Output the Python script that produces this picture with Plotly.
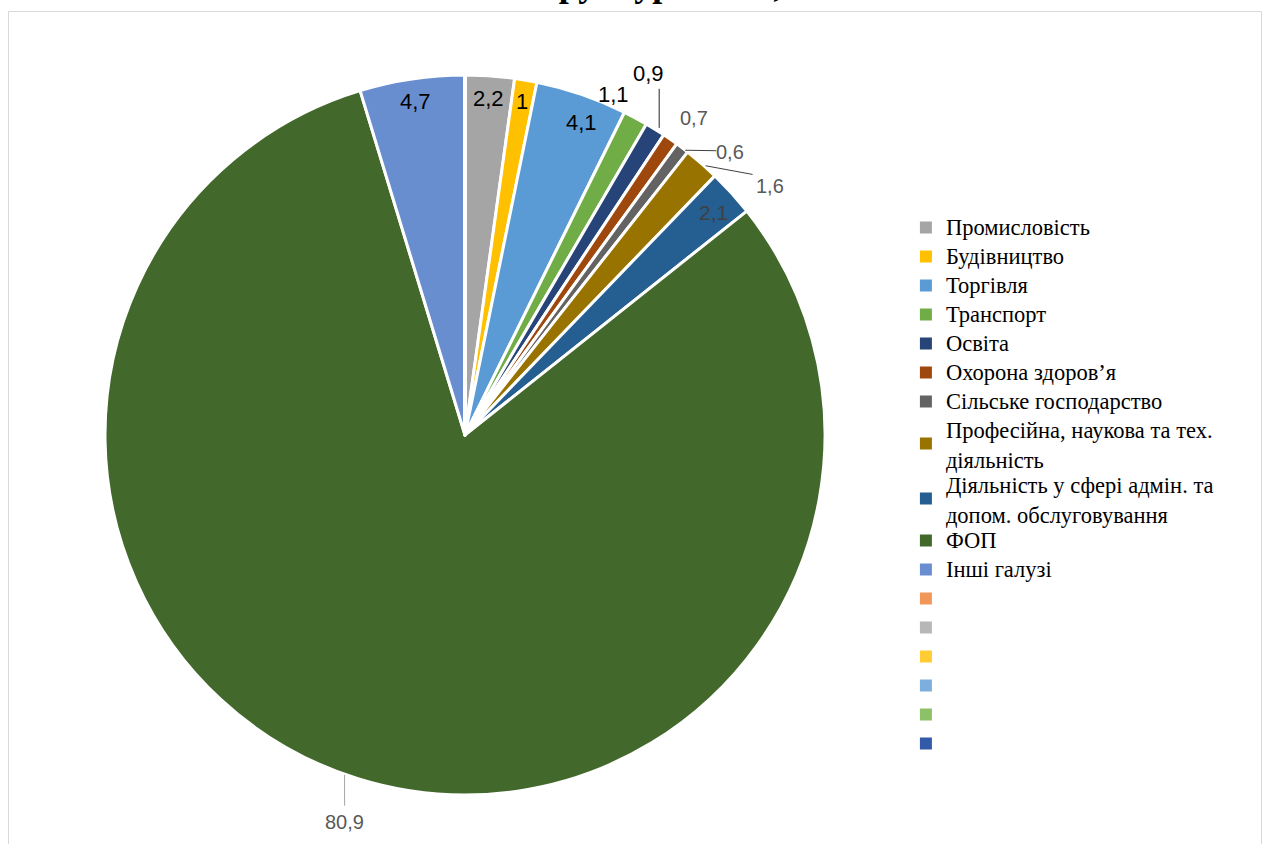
import math
import plotly.graph_objects as go

W, H = 1267, 844

# ---------------- data ----------------
categories = [
    "Промисловість", "Будівництво", "Торгівля", "Транспорт", "Освіта",
    "Охорона здоров’я", "Сільське господарство",
    "Професійна, наукова та тех.<br>діяльність",
    "Діяльність у сфері адмін. та<br>допом. обслуговування",
    "ФОП", "Інші галузі",
]
values = [2.2, 1, 4.1, 1.1, 0.9, 0.7, 0.6, 1.6, 2.1, 80.9, 4.7]
value_text = ["2,2", "1", "4,1", "1,1", "0,9", "0,7", "0,6", "1,6", "2,1", "80,9", "4,7"]
# empty legend entries present in the original
empty_entries = [" ", "  ", "   ", "    ", "     ", "      "]

colors = ["#A5A5A5", "#FFC000", "#5B9BD5", "#70AD47", "#264478", "#9E480E",
          "#636363", "#997300", "#255E91", "#43682B", "#698ED0"]
empty_colors = ["#F1975A", "#B7B7B7", "#FFCD33", "#7CAFDD", "#8CC168", "#335AA6"]

title_text = "Структура ЄСВ, %"

# ---------------- layout / style ----------------
dom_x = [105 / W, 825 / W]
dom_y = [49 / H, 769 / H]
cx = (dom_x[0] + dom_x[1]) / 2 * W
cy = H - (dom_y[0] + dom_y[1]) / 2 * H
R = min((dom_x[1] - dom_x[0]) * W, (dom_y[1] - dom_y[0]) * H) / 2

# label placement: (radius factor, angle nudge deg, color, size)
label_style = [
    (0.936, 0.0, "#000000", 22),
    (0.939, 0.0, "#000000", 22),
    (0.925, 1.5, "#000000", 22),
    (1.031, -4.7, "#000000", 22),
    (1.125, -5.0, "#000000", 22),
    (1.086, 1.0, "#595959", 20),
    (1.078, 6.0, "#595959", 20),
    (1.092, 9.7, "#595959", 20),
    (0.928, 0.4, "#404040", 21),
    (1.125, 0.0, "#595959", 20),
    (0.936, 0.0, "#000000", 22),
]
# leader lines: slice index -> (start angle nudge, start radius factor, end dx, end dy from label, colour)
leader_lines = {
    4: (0.3, 1.008, 11, 15, "#262626"),
    6: (0.6, 1.0, -14, -1, "#404040"),
    7: (0.7, 1.003, -17, -12, "#404040"),
    9: (2.0, 1.0, 0, -16, "#A6A6A6"),
}


def to_paper(px, py):
    return px / W, 1 - py / H


def polar(angle_deg, r):
    a = math.radians(angle_deg)
    return cx + r * math.sin(a), cy - r * math.cos(a)


total = sum(values)
mids = []
acc = 0.0
for v in values:
    mids.append((acc + v / 2) / total * 360)
    acc += v

fig = go.Figure()
fig.add_trace(go.Pie(
    labels=categories + empty_entries,
    values=values + [0] * len(empty_entries),
    sort=False,
    direction="clockwise",
    rotation=0,
    textinfo="none",
    hoverinfo="label+value",
    marker=dict(colors=colors + empty_colors, line=dict(color="#FFFFFF", width=3)),
    domain=dict(x=dom_x, y=dom_y),
    showlegend=True,
))

annotations = []
shapes = []
for i, (txt, mid) in enumerate(zip(value_text, mids)):
    rf, nudge, col, size = label_style[i]
    lx, ly = polar(mid + nudge, rf * R)
    px, py = to_paper(lx, ly)
    annotations.append(dict(
        x=px, y=py, xref="paper", yref="paper", text=txt, showarrow=False,
        xanchor="center", yanchor="middle",
        font=dict(family="Liberation Sans, Arial, sans-serif", size=size, color=col),
    ))
    if i in leader_lines:
        sn, sr, edx, edy, lc = leader_lines[i]
        sx, sy = polar(mid + sn, sr * R)
        ex, ey = lx + edx, ly + edy
        x0, y0 = to_paper(sx, sy)
        x1, y1 = to_paper(ex, ey)
        if i == 4 or i == 9:
            x0 = x1
        shapes.append(dict(type="line", xref="paper", yref="paper",
                           x0=x0, y0=y0, x1=x1, y1=y1,
                           line=dict(color=lc, width=1)))

# clipped title at the top
annotations.append(dict(
    x=513 / W, y=1 - 6 / H, xref="paper", yref="paper", text="<b>" + title_text + "</b>",
    showarrow=False, xanchor="left", yanchor="bottom",
    font=dict(family="Liberation Serif, Times New Roman, serif", size=36, color="#000000"),
))

# chart frame
shapes.append(dict(type="rect", xref="paper", yref="paper",
                   x0=8.5 / W, x1=1261.5 / W, y0=-0.05, y1=1 - 11.5 / H,
                   line=dict(color="#D9D9D9", width=1), fillcolor="rgba(0,0,0,0)", layer="below"))

fig.update_layout(
    width=W, height=H,
    margin=dict(l=0, r=0, t=0, b=0),
    paper_bgcolor="#FFFFFF",
    plot_bgcolor="#FFFFFF",
    showlegend=True,
    legend=dict(
        x=0.715, y=1 - 208 / H, xanchor="left", yanchor="top",
        font=dict(family="Liberation Serif, Times New Roman, serif", size=20, color="#000000"),
        bgcolor="rgba(0,0,0,0)",
        tracegroupgap=0,
    ),
    annotations=annotations,
    shapes=shapes,
)

post = """
document.body.style.margin='0';
document.querySelectorAll('.legend .scrollbox').forEach(function(s){s.removeAttribute('clip-path');});
document.querySelectorAll('.legend .legendtext').forEach(function(t){t.style.fontSize='22.5px';});
document.querySelectorAll('.legend .legendpoints path').forEach(function(p){p.style.strokeWidth='0px';});
"""

fig.write_html("out.html", config={"displayModeBar": False}, post_script=post)
